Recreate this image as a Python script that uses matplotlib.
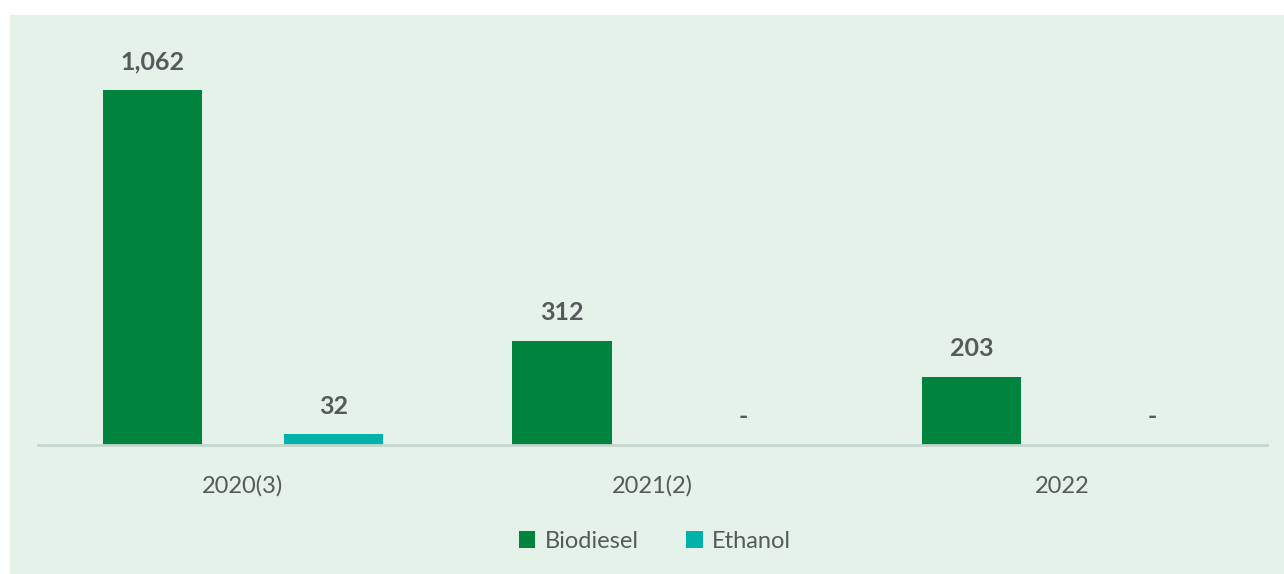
import matplotlib
matplotlib.use("Agg")
import matplotlib.pyplot as plt
from matplotlib.patches import Rectangle
import numpy as np

categories = ["2020(3)", "2021(2)", "2022"]
series_names = ["Biodiesel", "Ethanol"]
biodiesel = [1062, 312, 203]
ethanol = [32, 0, 0]

c_bio = "#00843D"
c_eth = "#00B2A9"
bg = "#E4F2E9"
txt = "#555A5A"

W, H = 1284, 574
fig = plt.figure(figsize=(W / 100, H / 100), dpi=100)
fig.patch.set_facecolor("white")
fig.patches.append(Rectangle((10 / W, 0), 1 - 10 / W, 1 - 15 / H,
                             transform=fig.transFigure, facecolor=bg,
                             edgecolor="none", zorder=-10))

ax_l, ax_r = 38 / W, 1267 / W
ax_b, ax_t = 1 - 445 / H, 1 - 20 / H
ax = fig.add_axes([ax_l, ax_b, ax_r - ax_l, ax_t - ax_b])
ax.set_zorder(5)
ax.set_facecolor("none")

x = np.arange(len(categories))
bw = 0.242
off = 0.221
ax.bar(x - off, biodiesel, bw, color=c_bio, label=series_names[0], zorder=2)
ax.bar(x + off, ethanol, bw, color=c_eth, label=series_names[1], zorder=2)

ax.set_xlim(-0.5, 2.5)
ax.set_ylim(0, 1271)

for xi, v in zip(x - off, biodiesel):
    ax.text(xi, v + 50, f"{v:,}" if v else "-", ha="center", va="bottom",
            fontsize=18, fontweight="bold", color=txt, family="Lato")
for xi, v in zip(x + off, ethanol):
    ax.text(xi, v + 50, f"{v:,}" if v else "-", ha="center", va="bottom",
            fontsize=18, fontweight="bold", color=txt, family="Lato")

for s in ["top", "right", "left"]:
    ax.spines[s].set_visible(False)
ax.spines["bottom"].set_color("#C5D6CC")
ax.spines["bottom"].set_linewidth(2)
ax.set_yticks([])
ax.set_xticks(x)
ax.set_xticklabels(categories, fontsize=17, color=txt, family="Lato")
ax.tick_params(axis="x", length=0, pad=22)

leg = fig.legend(loc="center", bbox_to_anchor=(655 / W, 1 - 541 / H),
                 ncol=2, frameon=False, handlelength=0.7, handleheight=0.7,
                 handletextpad=0.4, columnspacing=2.0,
                 prop={"family": "Lato", "size": 17})
for t in leg.get_texts():
    t.set_color(txt)

fig.savefig("out.png", dpi=100, facecolor="white")
